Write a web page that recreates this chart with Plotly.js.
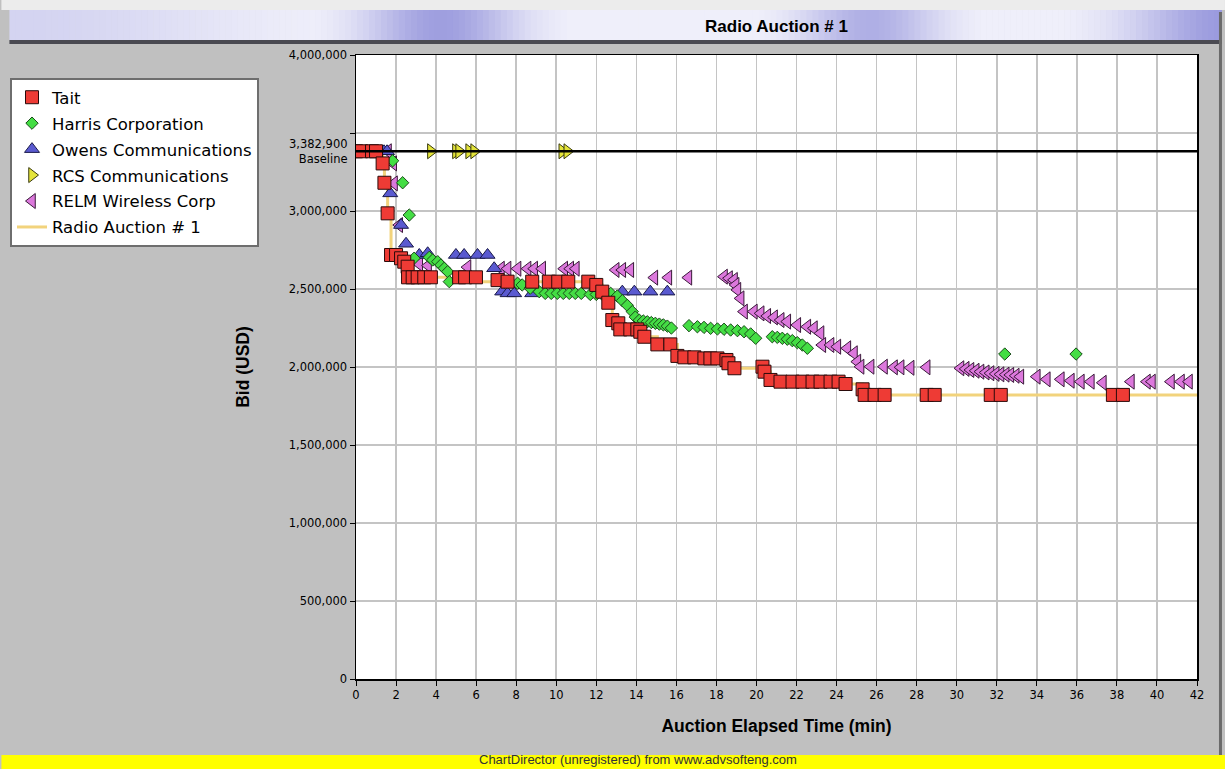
<!DOCTYPE html>
<html>
<head>
<meta charset="utf-8">
<script src="https://cdn.plot.ly/plotly-3.0.1.min.js"></script>
<style>html,body{margin:0;padding:0;background:#c0c0c0;}#chart{width:1225px;height:769px;}</style>
</head>
<body>
<div id="chart"></div>
<script>
// ---------------- DATA ----------------
const BASELINE = 3382900;
const X_TICKS = [0,2,4,6,8,10,12,14,16,18,20,22,24,26,28,30,32,34,36,38,40,42];
const Y_TICKVALS = [0,500000,1000000,1500000,2000000,2500000,3000000,3500000,4000000];
const Y_TICKTEXT = ['0','500,000','1,000,000','1,500,000','2,000,000','2,500,000','3,000,000','','4,000,000'];

const taitTime = [0,0.25,0.8,1.0,1.33,1.42,1.58,1.75,2.0,2.25,2.41,2.58,2.6,2.83,3.08,3.41,3.74,5.15,5.45,5.99,7.07,7.57,8.8,9.63,10.1,10.6,11.6,12.0,12.3,12.6,12.8,13.1,13.2,13.7,14.05,14.2,14.4,15.05,15.7,16.05,16.4,16.9,17.4,17.7,18.05,18.5,18.6,18.9,20.3,20.4,20.7,21.2,21.8,22.3,22.8,23.2,23.7,24.1,24.45,25.3,25.4,25.9,26.4,28.5,28.9,31.7,32.2,37.8,38.3];
const taitBid = [3382900,3382900,3382900,3382900,3305000,3181000,2985000,2718000,2718000,2697000,2675000,2643000,2575000,2575000,2575000,2575000,2575000,2575000,2575000,2575000,2557000,2547000,2547000,2547000,2547000,2547000,2547000,2526000,2483000,2412000,2301000,2280000,2241000,2241000,2241000,2226000,2194000,2145000,2145000,2071000,2062000,2062000,2055000,2055000,2055000,2045000,2024000,1992000,2002000,1970000,1917000,1906000,1906000,1906000,1906000,1906000,1906000,1906000,1891000,1857000,1821000,1821000,1821000,1821000,1821000,1821000,1821000,1821000,1821000];

const harrisTime = [1.83,2.33,2.66,2.9,3.66,3.83,4.08,4.24,4.41,4.58,4.66,8.07,8.3,8.7,9.15,9.45,9.75,10.05,10.35,10.65,10.95,11.25,11.7,12.0,12.3,12.72,13.05,13.3,13.55,13.8,13.95,14.15,14.35,14.55,14.75,14.95,15.15,15.35,15.55,15.75,16.63,17.05,17.38,17.71,18.05,18.38,18.71,19.05,19.38,19.71,19.96,20.79,21.04,21.29,21.54,21.79,22.04,22.29,22.54,32.4,35.96];
const harrisBid = [3322000,3181000,2974000,2697000,2703000,2686000,2675000,2654000,2633000,2611000,2547000,2537000,2526000,2505000,2483000,2472000,2472000,2472000,2472000,2472000,2472000,2472000,2465000,2465000,2465000,2472000,2455000,2425000,2395000,2355000,2320000,2300000,2295000,2290000,2285000,2280000,2275000,2270000,2262000,2250000,2265000,2258000,2254000,2248000,2244000,2242000,2237000,2233000,2226000,2212000,2184000,2194000,2190000,2184000,2178000,2169000,2156000,2141000,2120000,2083000,2083000];

const owensTime = [1.4,1.55,1.71,2.25,2.5,3.16,3.58,4.99,5.4,6.07,6.57,6.9,7.3,7.57,7.9,8.8,13.3,13.9,14.7,15.55];
const owensBid = [3382900,3382900,3113000,2910000,2790000,2718000,2729000,2718000,2718000,2718000,2718000,2633000,2483000,2472000,2472000,2472000,2483000,2483000,2483000,2483000];

const rcsTime = [3.74,4.99,5.15,5.65,5.9,10.3,10.55];
const rcsBid = [3382900,3382900,3382900,3382900,3382900,3382900,3382900];

const relmTime = [1.6,1.86,1.9,2.16,3.16,3.6,5.57,7.24,7.57,8.07,8.57,8.9,9.3,10.4,10.7,10.98,12.97,13.3,13.7,14.9,15.6,16.6,18.38,18.63,18.88,18.96,19.05,19.21,19.38,19.87,20.21,20.54,20.88,21.21,21.54,22.04,22.54,22.87,23.2,23.29,23.7,24.04,24.54,24.87,25.04,25.2,25.7,26.37,26.87,27.2,27.7,28.5,30.19,30.45,30.69,30.95,31.19,31.45,31.69,31.95,32.19,32.45,32.68,32.95,33.18,34.0,34.5,35.2,35.7,36.2,36.7,37.3,38.7,39.5,39.75,40.7,41.2,41.6];
const relmBid = [3382900,3305000,3177000,2910000,2660000,2650000,2640000,2630000,2630000,2630000,2630000,2630000,2630000,2630000,2630000,2630000,2622000,2622000,2622000,2573000,2573000,2573000,2579000,2569000,2558000,2526000,2494000,2440000,2355000,2355000,2344000,2327000,2318000,2301000,2291000,2269000,2258000,2248000,2216000,2141000,2141000,2130000,2120000,2088000,2034000,2002000,2002000,2002000,1998000,1998000,1995000,1998000,1992000,1988000,1981000,1976000,1970000,1965000,1960000,1956000,1953000,1951000,1949000,1944000,1938000,1938000,1921000,1921000,1912000,1906000,1906000,1899000,1906000,1906000,1906000,1906000,1906000,1906000];

const leadTime = [0,1.33,1.42,1.58,1.75,2.25,2.41,2.58,4.66,12.0,12.3,12.6,12.8,13.1,13.2,14.2,14.4,15.05,16.05,16.4,17.4,18.5,18.6,18.9,20.4,20.7,21.2,24.45,25.3,25.4,42];
const leadBid = [3382900,3305000,3181000,2985000,2718000,2697000,2675000,2575000,2547000,2526000,2483000,2412000,2301000,2280000,2241000,2226000,2194000,2145000,2071000,2062000,2055000,2045000,2024000,1992000,1970000,1917000,1906000,1891000,1857000,1821000,1821000];

// ---------------- LAYOUT HELPERS ----------------
const PL = 355, PR = 1197, PT = 55, PB = 679;
const px = v => (v - PL) / (PR - PL);
const py = v => (PB - v) / (PB - PT);

function mix(a, b, t) {
  const pa = [parseInt(a.slice(1,3),16),parseInt(a.slice(3,5),16),parseInt(a.slice(5,7),16)];
  const pb = [parseInt(b.slice(1,3),16),parseInt(b.slice(3,5),16),parseInt(b.slice(5,7),16)];
  return 'rgb(' + pa.map((c,i)=>Math.round(c + (pb[i]-c)*t)).join(',') + ')';
}
const shapes = [];
shapes.push({type:'rect',xref:'paper',yref:'paper',x0:px(0),x1:px(1225),y0:py(0),y1:py(10),fillcolor:'#ececec',line:{width:0},layer:'below'});
const bumps = [[440,55,0.8],[870,50,0.65],[1230,70,0.85],[20,160,0.3]];
for (let x = 8; x < 1222; x += 6) {
  const c = x + 3;
  let k = 0.05;
  bumps.forEach(b => { k = Math.max(k, b[2]*Math.exp(-((c-b[0])**2)/(2*b[1]*b[1]))); });
  shapes.push({type:'rect',xref:'paper',yref:'paper',x0:px(x),x1:px(Math.min(x+6.6,1222)),y0:py(10),y1:py(40),
    fillcolor:mix('#f4f4fc','#8a8ad8',k),line:{width:0},layer:'below'});
}
shapes.push({type:'rect',xref:'paper',yref:'paper',x0:px(8),x1:px(1222),y0:py(40),y1:py(44),fillcolor:'#4a4a52',line:{width:0},layer:'below'});
shapes.push({type:'rect',xref:'paper',yref:'paper',x0:px(1219),x1:px(1222),y0:py(12),y1:py(757),fillcolor:'#6a6a6a',line:{width:0},layer:'below'});
shapes.push({type:'rect',xref:'paper',yref:'paper',x0:px(0),x1:px(1225),y0:py(755),y1:py(769),fillcolor:'#ffff00',line:{width:0},layer:'below'});
shapes.push({type:'line',xref:'paper',yref:'y',x0:0,x1:1,y0:BASELINE,y1:BASELINE,line:{color:'#000000',width:2.5},layer:'above'});

// ---------------- TRACES ----------------
const mk = (sym, size, fill, edge) => ({symbol:sym,size:size,color:fill,line:{color:edge,width:1}});
const traces = [
  {type:'scatter',mode:'lines',name:'Radio Auction # 1',x:leadTime,y:leadBid,line:{color:'#f2d37c',width:3,shape:'hv'},legendrank:6,legendgroup:'g6'},
  {type:'scatter',mode:'markers',name:'RELM Wireless Corp',x:relmTime,y:relmBid,marker:mk('triangle-left',13,'#dc78dc','#3a1a3a'),legendrank:5,legendgroup:'g5'},
  {type:'scatter',mode:'markers',name:'RCS Communications',x:rcsTime,y:rcsBid,marker:mk('triangle-right',13,'#e4e43a','#3a3a10'),legendrank:4,legendgroup:'g4'},
  {type:'scatter',mode:'markers',name:'Owens Communications',x:owensTime,y:owensBid,marker:mk('triangle-up',13,'#5a5ad0','#1a1a4a'),legendrank:3,legendgroup:'g3'},
  {type:'scatter',mode:'markers',name:'Harris Corporation',x:harrisTime,y:harrisBid,marker:mk('diamond',9.5,'#44dd44','#1a4a1a'),legendrank:2,legendgroup:'g2'},
  {type:'scatter',mode:'markers',name:'Tait',x:taitTime,y:taitBid,marker:mk('square',13,'#ee3b35','#2a0a0a'),legendrank:1,legendgroup:'g1'}
];

const tickFont = {family:'DejaVu Sans, Verdana, sans-serif',size:11.5,color:'#000'};
const layout = {
  width:1225,height:769,
  margin:{l:PL,r:1225-PR,t:PT,b:769-PB,pad:0},
  paper_bgcolor:'#c0c0c0',plot_bgcolor:'#ffffff',
  showlegend:true,
  title:{text:'<b>Radio Auction # 1</b>',font:{family:'Liberation Sans, Arial, sans-serif',size:17,color:'#000'},x:0.5,xref:'paper',xanchor:'center',y:1-26/769,yref:'container',yanchor:'middle'},
  xaxis:{range:[0,42],tickvals:X_TICKS,ticktext:X_TICKS.map(String),showgrid:true,gridcolor:'#c4c4c4',gridwidth:1.5,
    showline:true,linecolor:'#000',linewidth:1.5,mirror:true,ticks:'outside',ticklen:5,tickcolor:'#000',zeroline:false,
    tickfont:tickFont,
    title:{text:'<b>Auction Elapsed Time (min)</b>',font:{family:'Liberation Sans, Arial, sans-serif',size:17.5,color:'#000'},standoff:18}},
  yaxis:{range:[0,4000000],tickvals:Y_TICKVALS,ticktext:Y_TICKTEXT,showgrid:true,gridcolor:'#c4c4c4',gridwidth:1.5,
    showline:true,linecolor:'#000',linewidth:1.5,mirror:true,ticks:'outside',ticklen:5,tickcolor:'#000',zeroline:false,
    tickfont:tickFont,
    title:{text:'<b>Bid (USD)</b>',font:{family:'Liberation Sans, Arial, sans-serif',size:17.5,color:'#000'},standoff:34}},
  legend:{x:px(10),y:py(78),xanchor:'left',yanchor:'top',bgcolor:'#ffffff',bordercolor:'#6e6e6e',borderwidth:2,
    font:{family:'DejaVu Sans, Verdana, sans-serif',size:16.5,color:'#000'},tracegroupgap:1.5,traceorder:'grouped',itemwidth:30},
  shapes:shapes,
  annotations:[
    {xref:'paper',yref:'y',x:px(349),y:BASELINE,xanchor:'right',yanchor:'middle',align:'right',showarrow:false,
     text:'3,382,900<br>Baseline',font:tickFont},
    {xref:'paper',yref:'paper',x:px(637),y:py(769),xanchor:'center',yanchor:'bottom',showarrow:false,
     text:'ChartDirector (unregistered) from www.advsofteng.com',font:{family:'Liberation Sans, Arial, sans-serif',size:13,color:'#333'}}
  ]
};
Plotly.newPlot('chart', traces, layout, {staticPlot:true,displayModeBar:false});
</script>
</body>
</html>
